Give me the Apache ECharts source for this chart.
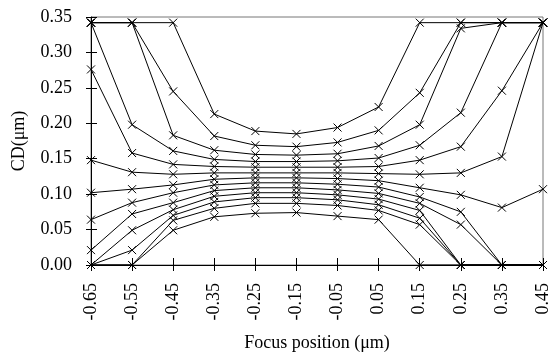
<!DOCTYPE html>
<html>
<head>
<meta charset="utf-8">
<script src="https://cdn.jsdelivr.net/npm/echarts@6/dist/echarts.min.js"></script>
<style>html,body{margin:0;padding:0;background:#fff}#c{width:552px;height:360px}</style>
</head>
<body>
<div id="c"></div>
<script>
const focus = ['-0.65','-0.55','-0.45','-0.35','-0.25','-0.15','-0.05','0.05','0.15','0.25','0.35','0.45'];
const L1  = [0.342, 0.342, 0.342, 0.213, 0.189, 0.185, 0.194, 0.223, 0.342, 0.342, 0.342, 0.342];
const L2  = [0.342, 0.342, 0.245, 0.182, 0.169, 0.167, 0.173, 0.190, 0.243, 0.342, 0.342, 0.342];
const L3  = [0.342, 0.342, 0.183, 0.162, 0.156, 0.155, 0.157, 0.168, 0.198, 0.334, 0.342, 0.342];
const L4  = [0.342, 0.198, 0.161, 0.149, 0.146, 0.146, 0.147, 0.151, 0.169, 0.215, 0.342, 0.342];
const L5  = [0.276, 0.158, 0.142, 0.139, 0.138, 0.138, 0.138, 0.139, 0.148, 0.167, 0.246, 0.342];
const L6  = [0.148, 0.131, 0.128, 0.130, 0.130, 0.130, 0.130, 0.129, 0.128, 0.130, 0.153, 0.342];
const L7  = [0.102, 0.107, 0.113, 0.121, 0.123, 0.123, 0.122, 0.119, 0.109, 0.099, 0.081, 0.107];
const L8  = [0.064, 0.088, 0.102, 0.113, 0.116, 0.116, 0.114, 0.110, 0.096, 0.075, 0, 0];
const L9  = [0.021, 0.072, 0.088, 0.105, 0.109, 0.109, 0.106, 0.101, 0.087, 0.057, 0, 0];
const L10 = [0, 0.049, 0.078, 0.097, 0.102, 0.102, 0.099, 0.093, 0.077, 0, 0, 0];
const L11 = [0, 0.021, 0.070, 0.089, 0.095, 0.095, 0.092, 0.085, 0.066, 0, 0, 0];
const L12 = [0, 0, 0.063, 0.080, 0.087, 0.087, 0.084, 0.077, 0.057, 0, 0, 0];
const L13 = [0, 0, 0.049, 0.068, 0.073, 0.074, 0.069, 0.064, 0, 0, 0, 0];
const curves = [L1, L2, L3, L4, L5, L6, L7, L8, L9, L10, L11, L12, L13];

const font = '"Liberation Serif", "DejaVu Serif", serif';
const chart = echarts.init(document.getElementById('c'), null, {renderer: 'canvas'});
const xMark = 'path://M0,0L10,10M10,0L0,10';
const series = curves.map((d, i) => ({
  type: 'line',
  name: 'c' + i,
  data: d,
  symbol: xMark,
  symbolSize: 8,
  showAllSymbol: true,
  lineStyle: {color: '#000', width: 1},
  itemStyle: {color: 'none', borderColor: '#000', borderWidth: 1},
  emphasis: {disabled: true},
  animation: false
}));
const xBase = {type: 'category', data: focus, boundaryGap: false, position: 'bottom'};
chart.setOption({
  animation: false,
  grid: {left: 91, right: 7, top: 17, bottom: 95, show: true, borderColor: '#777', borderWidth: 1, backgroundColor: 'transparent'},
  xAxis: [
    Object.assign({}, xBase, {
      name: 'Focus position (\u03bcm)', nameLocation: 'middle', nameGap: 69, nameMoveOverlap: false,
      nameTextStyle: {fontFamily: font, fontSize: 18, color: '#000'},
      axisLine: {lineStyle: {color: '#000', width: 1}},
      axisTick: {show: true, inside: false, length: 6, lineStyle: {color: '#000'}},
      axisLabel: {rotate: 90, fontFamily: font, fontSize: 18, color: '#000', margin: 18, interval: 0},
      splitLine: {show: false}
    }),
    Object.assign({}, xBase, {
      axisLine: {show: false},
      axisTick: {show: true, inside: true, length: 7, lineStyle: {color: '#000'}},
      axisLabel: {show: false}, splitLine: {show: false}
    })
  ],
  yAxis: [
    {
      type: 'value', min: 0, max: 0.35, interval: 0.05,
      name: 'CD(\u03bcm)', nameLocation: 'middle', nameGap: 63, nameRotate: 90, nameMoveOverlap: false,
      nameTextStyle: {fontFamily: font, fontSize: 18, color: '#000'},
      axisLine: {show: true, lineStyle: {color: '#000', width: 1}},
      axisTick: {show: true, inside: false, length: 5, lineStyle: {color: '#000'}},
      axisLabel: {fontFamily: font, fontSize: 18, color: '#000', margin: 19, formatter: v => v.toFixed(2)},
      splitLine: {show: false}
    },
    {
      type: 'value', min: 0, max: 0.35, interval: 0.05, position: 'left',
      axisLine: {show: false},
      axisTick: {show: true, inside: true, length: 6, lineStyle: {color: '#000'}},
      axisLabel: {show: false}, splitLine: {show: false}
    }
  ],
  series: series
});
</script>
</body>
</html>
